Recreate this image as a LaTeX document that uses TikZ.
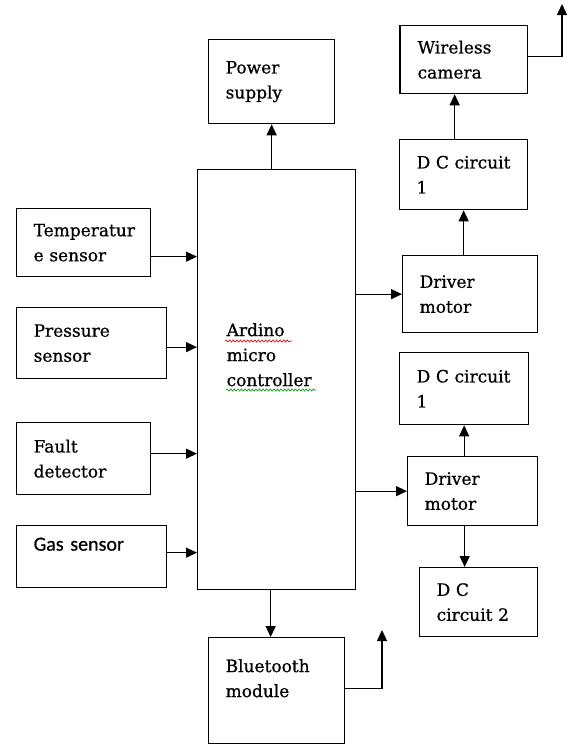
\documentclass[tikz,border=0pt]{standalone}
\usepackage{fontspec}
\setmainfont[RawFeature={embolden=0.7}]{DejaVu Serif}
\newfontfamily\gasfont[RawFeature={embolden=0.7}]{Carlito}
\usepackage{tikz}
\usetikzlibrary{arrows.meta,positioning,calc,decorations.pathmorphing}
\hfuzz=30pt
\hbadness=10000
\hyphenpenalty=10000

\begin{document}
\begin{tikzpicture}[
  x=1pt, y=-1pt,
  blk/.style 2 args={draw, line width=1.3pt, anchor=north west, align=left, inner xsep=17pt, inner ysep=0pt,
    text width=#1, minimum height=#2, font=\fontsize{17}{25}\selectfont},
  arrow/.style={-{Triangle[length=11pt, width=10pt]}, line width=1.3pt},
  squig/.style={decorate, decoration={snake, amplitude=1.1pt, segment length=3.6pt}, line width=0.6pt}
]
\useasboundingbox (0,0) rectangle (570,744);

% main controller and its supply / link
\node[blk={100pt}{420pt}, inner xsep=29pt] (ctrl) at (197,169) {Ardino\\micro\\controller\\\mbox{}\\\mbox{}};
\node[blk={92pt}{84pt}] (pwr) at (208,39) {Power\\supply};
\node[blk={102pt}{106pt}] (bt) at (208,637) {Bluetooth\\module\\\mbox{}};

% sensors
\node[blk={100pt}{68pt}] (temp) at (16,208) {Temperatur\\e sensor};
\node[blk={116pt}{71pt}] (pres) at (16,307) {Pressure\\sensor};
\node[blk={100pt}{72pt}] (fault) at (16,422) {Fault\\detector};
\node[blk={116pt}{62pt}, font=\gasfont\fontsize{20}{25}\selectfont] (gas) at (16,525) {Gas sensor\\\mbox{}};

% upper drive chain
\node[blk={93pt}{68pt}] (cam) at (400,25) {Wireless\\camera};
\node[blk={94pt}{70pt}] (dcA) at (399,139) {D~C~circuit\\1};
\node[blk={101pt}{77pt}] (drvA) at (402,255) {Driver\\motor};

% lower drive chain
\node[blk={95pt}{72pt}] (dcB) at (399,352) {D~C~circuit\\1};
\node[blk={96pt}{69pt}] (drvB) at (407,456) {Driver\\motor};
\node[blk={84pt}{69pt}] (dcC) at (419,567) {D~C\\circuit~2};

\draw[line width=2.6pt] (cam.north west) -- (cam.south west);

\coordinate (camout) at (562,4);
\coordinate (btout) at (382,630);

\foreach \s/\d in {temp/-14, pres/-4, fault/5, gas/4}
  \draw[arrow] ([yshift=\d pt]\s.east) -- ([yshift=\d pt]\s.east -| ctrl.west);

\draw[arrow] (ctrl.north -| pwr.south) -- (pwr.south);
\draw[arrow] ([xshift=-6pt]ctrl.south) -- ([xshift=-6pt]ctrl.south |- bt.north);
\draw[arrow] (ctrl.east |- drvA.west) -- (drvA.west);
\draw[arrow] (ctrl.east |- drvB.west) -- (drvB.west);
\draw[arrow] (drvA.north -| dcA.south) -- (dcA.south);
\draw[arrow] ([xshift=-9pt]dcA.north) -- ([xshift=-9pt]dcA.north |- cam.south);
\draw[arrow] (drvB.north -| dcB.south) -- (dcB.south);
\draw[arrow] ([xshift=-8pt]drvB.south) -- ([xshift=-8pt]drvB.south |- dcC.north);
\draw[arrow] ([yshift=3pt]cam.east) -| (camout);
\draw[arrow] ([yshift=2pt]bt.east) -| (btout);

% spelling marks under the controller text
\draw[squig, red!85!black] (225,341) -- (292,341);
\draw[squig, green!60!black] (226,390) -- (316,390);
\end{tikzpicture}
\end{document}
